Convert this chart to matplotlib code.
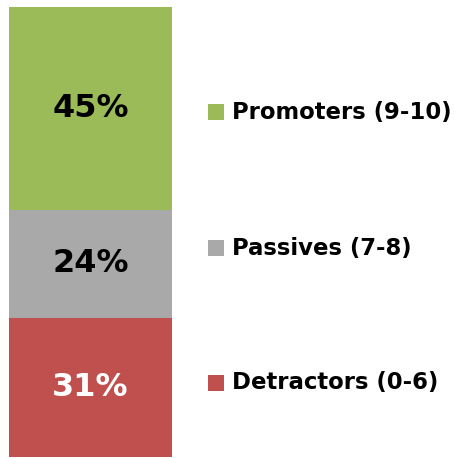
import matplotlib
matplotlib.use("Agg")
import matplotlib.pyplot as plt
from matplotlib.patches import Rectangle

# Net Promoter Score breakdown (single stacked column)
categories = ["Detractors (0-6)", "Passives (7-8)", "Promoters (9-10)"]
shares = [31, 24, 45]
colors = ["#C0504D", "#A9A9A9", "#9BBB59"]
label_colors = ["white", "black", "black"]

W, H = 454, 458
fig = plt.figure(figsize=(W / 100, H / 100), dpi=100)
fig.patch.set_facecolor("white")

ax = fig.add_axes([9 / W, 1 / H, 163 / W, 450 / H])
ax.set_xlim(-0.5, 0.5)
ax.set_ylim(0, sum(shares))
ax.axis("off")

bottom = 0
for val, col, lc in zip(shares, colors, label_colors):
    ax.bar(0, val, width=1.0, bottom=bottom, color=col, linewidth=0)
    ax.text(0, bottom + val / 2, f"{val}%", ha="center", va="center",
            fontsize=23, fontweight="bold", color=lc, family="DejaVu Sans")
    bottom += val

# Legend on the right, top entry first
legend_rows = [383, 248, 112]  # pixel rows from the top, per category
for cat, col, yrow in zip(categories, colors, legend_rows):
    yf = 1 - yrow / H
    sq = 16
    fig.patches.append(Rectangle((208 / W, yf - sq / 2 / H), sq / W, sq / H,
                                 transform=fig.transFigure, color=col,
                                 linewidth=0))
    fig.text(232 / W, yf, cat, ha="left", va="center", fontsize=16.4,
             fontweight="bold", color="black", family="DejaVu Sans")

fig.savefig("out.png", dpi=100, facecolor="white")
